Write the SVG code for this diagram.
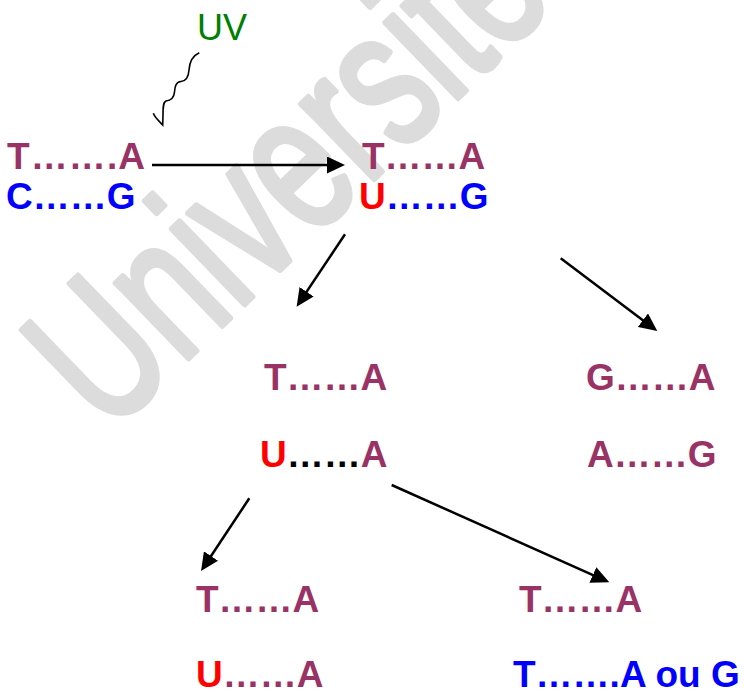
<svg xmlns="http://www.w3.org/2000/svg" width="744" height="692" viewBox="0 0 744 692">
<style>
.b{font-family:"Liberation Sans",Arial,sans-serif;font-weight:bold;font-size:37px}
.m{fill:#993366}.bl{fill:#0000ff}.r{fill:#ff0000}.k{fill:#000000}
.uv{font-family:"Liberation Sans",Arial,sans-serif;font-size:36px;fill:#008000}
.wm{font-family:"Liberation Sans",Arial,sans-serif;font-size:198px;fill:#dcdcdc;stroke:#dcdcdc;stroke-width:6;stroke-linejoin:round;stroke-linecap:round}
.c{stroke:#000;stroke-width:2.5;fill:none}
</style>
<defs>
<marker id="ah" markerUnits="userSpaceOnUse" markerWidth="18" markerHeight="17" viewBox="0 -8.5 18 17" refX="2" refY="0" orient="auto">
<path d="M0,-8.5 L18,0 L0,8.5 z" fill="#000"/>
</marker>
</defs>
<g id="watermark">
<text class="wm" transform="translate(108,436) rotate(-44) scale(0.71,1)">Universite</text>
</g>
<g id="uv">
<text class="uv" x="197" y="40">UV</text>
<path d="M199.3,52.7 C192,56 189.5,62 189,70 C188.5,78 186,81 181,81.5 C176,82 175,86 174.5,92 C174,98 171,100.5 166,101 C163,102 163,108 163,115 L162.7,125 C160,122 155,118 153.3,113.3" stroke="#000" stroke-width="1.6" fill="none"/>
</g>
<g id="n1">
<text class="b m" x="7" y="169" textLength="138" lengthAdjust="spacing">T…….A</text>
<text class="b bl" x="6" y="209">C……G</text>
</g>
<g id="n2">
<text class="b m" x="362" y="169">T……A</text>
<text class="b" x="359" y="209"><tspan class="r">U</tspan><tspan class="bl">……G</tspan></text>
</g>
<g id="n3">
<text class="b m" x="264" y="390">T……A</text>
<text class="b" x="260" y="467"><tspan class="r">U</tspan><tspan class="k">……</tspan><tspan class="m">A</tspan></text>
</g>
<g id="n4">
<text class="b m" x="586" y="390">G……A</text>
<text class="b m" x="587" y="467">A……G</text>
</g>
<g id="n5">
<text class="b m" x="196" y="612">T……A</text>
<text class="b" x="196" y="687"><tspan class="r">U</tspan><tspan class="m">……A</tspan></text>
</g>
<g id="n6">
<text class="b m" x="519" y="612">T……A</text>
<text class="b bl" x="513" y="687">T…….A ou G</text>
</g>
<g id="connectors">
<line class="c" x1="152" y1="165" x2="329" y2="165" marker-end="url(#ah)"/>
<line class="c" x1="345" y1="234.3" x2="305.5" y2="293.4" marker-end="url(#ah)"/>
<line class="c" x1="560.7" y1="258.3" x2="644.5" y2="321.4" marker-end="url(#ah)"/>
<line class="c" x1="249.3" y1="498.3" x2="209.9" y2="557.7" marker-end="url(#ah)"/>
<line class="c" x1="391.7" y1="485" x2="594.7" y2="575.8" marker-end="url(#ah)"/>
</g>
</svg>
